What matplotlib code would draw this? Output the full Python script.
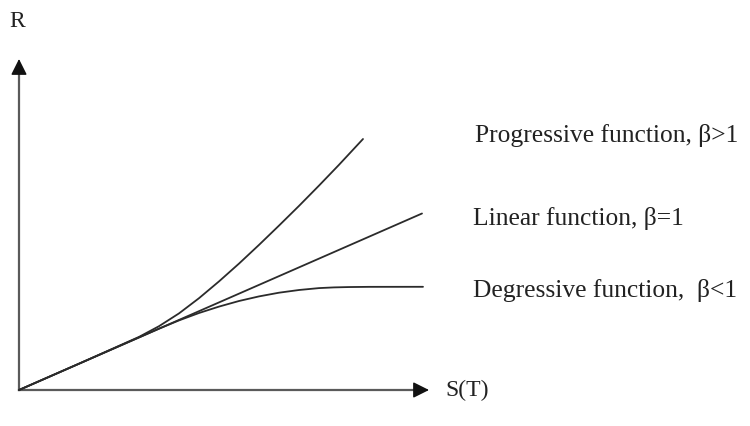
import matplotlib
matplotlib.use("Agg")
import matplotlib.pyplot as plt

# Data (arbitrary units, origin at 0)
prog_x = [0, 60, 120, 140, 160, 180, 200, 220, 240, 260, 280, 300, 320, 344]
prog_y = [0, 26.3, 53.1, 63.8, 76.6, 91.8, 108.6, 126.4, 145.1, 164.4, 184.1, 204.4, 225.2, 251]

lin_x = [0, 403]
lin_y = [0, 176.5]

deg_x = [0, 60, 140, 160, 180, 200, 220, 240, 260, 280, 300, 315, 330, 350, 404]
deg_y = [0, 26.3, 61.3, 69.6, 77.0, 83.4, 89.0, 93.6, 97.3, 100.0, 101.9, 102.6, 102.95, 103.15, 103.2]

labels = ["Progressive function, β>1", "Linear function, β=1", "Degressive function,  β<1"]
label_pos = [(456, 248), (454, 165), (454, 93)]
y_label = "R"
x_label = "S(T)"

plt.rcParams['font.family'] = ['Liberation Serif', 'DejaVu Serif']

fig = plt.figure(figsize=(7.5, 4.26), dpi=100)
ax = fig.add_axes([0, 0, 1, 1])
ax.set_xlim(-19, 731)
ax.set_ylim(-36, 390)
ax.axis('off')

line_col = '#2b2b2b'
ax.plot(prog_x, prog_y, color=line_col, lw=1.3, solid_capstyle='round')
ax.plot(lin_x, lin_y, color=line_col, lw=1.3, solid_capstyle='round')
ax.plot(deg_x, deg_y, color=line_col, lw=1.3, solid_capstyle='round')

# axis lines (grey) with black arrowheads
ax.plot([0, 0], [0, 322], color='#5a5a5a', lw=1.6, zorder=1)
ax.plot([0, 401], [0, 0], color='#5a5a5a', lw=1.6, zorder=1)
arrow_style = '-|>,head_length=0.7,head_width=0.35'
ax.annotate('', xy=(0, 331), xytext=(0, 318),
            arrowprops=dict(arrowstyle=arrow_style, mutation_scale=14,
                            color='#111111', lw=1.0, shrinkA=0, shrinkB=0))
ax.annotate('', xy=(410, 0), xytext=(397, 0),
            arrowprops=dict(arrowstyle=arrow_style, mutation_scale=14,
                            color='#111111', lw=1.0, shrinkA=0, shrinkB=0))

txt_col = '#222222'
for lab, (tx, ty) in zip(labels, label_pos):
    ax.text(tx, ty, lab, fontsize=18.4, color=txt_col, ha='left', va='baseline')

ax.text(-10, 363, y_label, fontsize=17, color=txt_col, ha='left', va='baseline')
ax.text(426, -6, x_label, fontsize=17, color=txt_col, ha='left', va='baseline')

fig.savefig('out.png', dpi=100)
